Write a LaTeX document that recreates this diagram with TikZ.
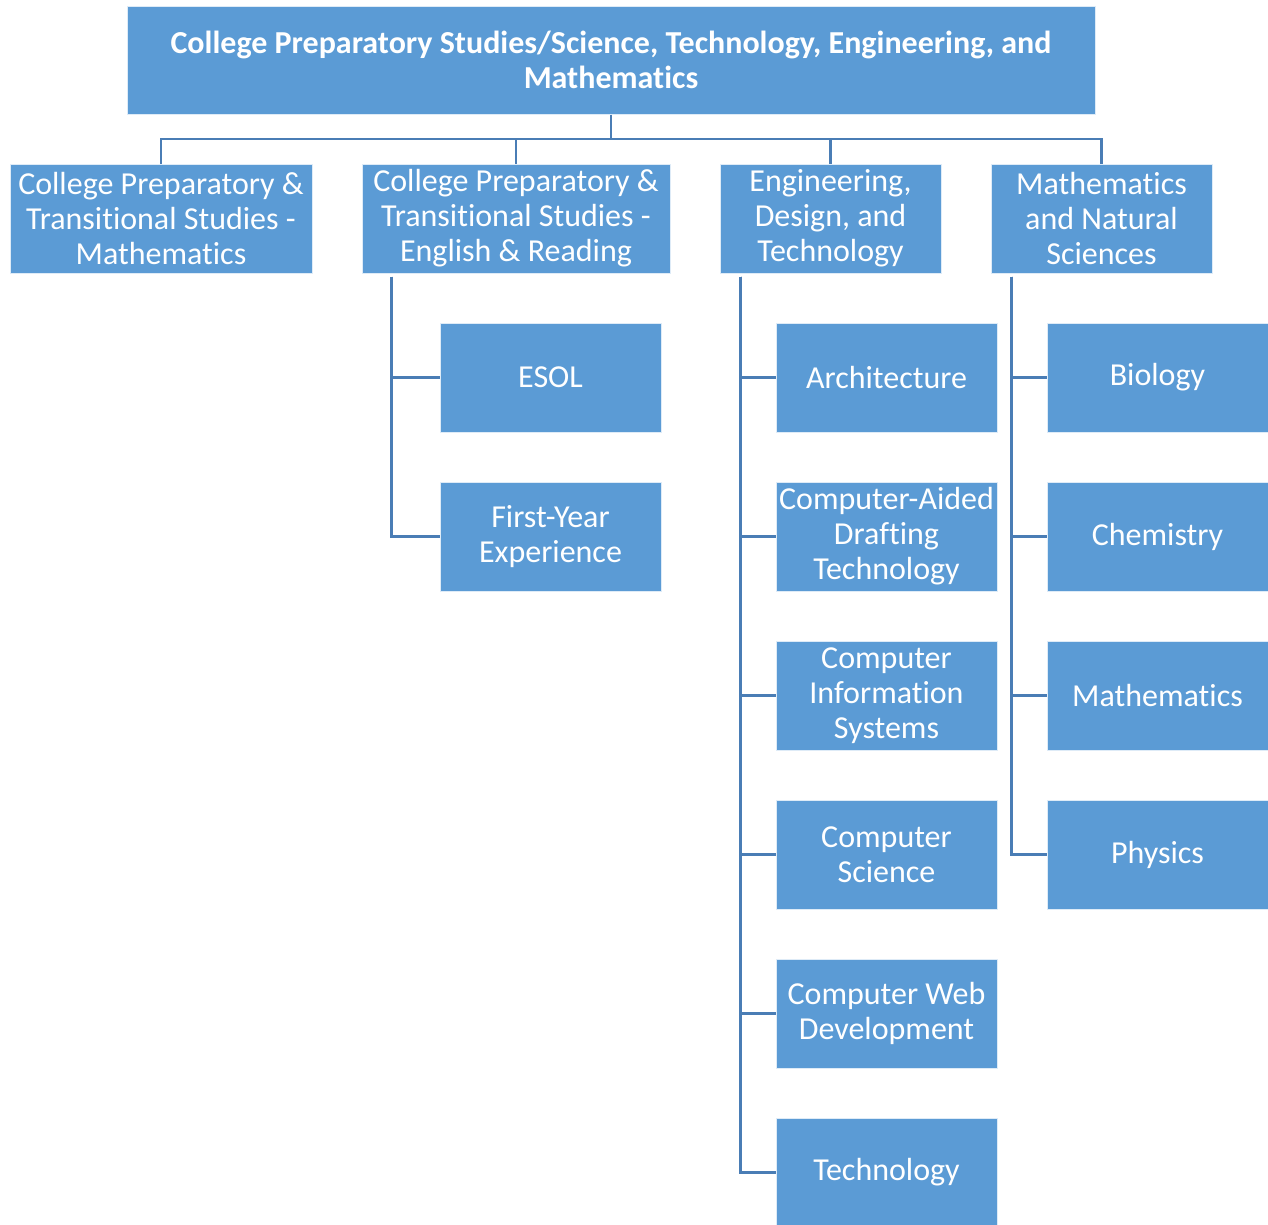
\documentclass[tikz,border=0pt]{standalone}
\usepackage{fontspec}
\setmainfont[Ligatures={NoCommon}]{Carlito}
\usetikzlibrary{calc}
\definecolor{boxfill}{HTML}{5B9BD5}
\definecolor{linec}{HTML}{4A7DB5}
\begin{document}
\begin{tikzpicture}[x=1pt,y=-1pt,
  box/.style={fill=boxfill,draw=white!80!boxfill,line width=1pt,text=white,inner sep=0pt,align=center,
    font=\fontsize{32}{35}\selectfont},
  conn/.style={draw=linec,line width=2.6pt}]
\useasboundingbox (0,0) rectangle (1268,1224);
\node[box,minimum width=968,minimum height=108,font=\bfseries\fontsize{32}{35}\selectfont] (top) at (611,60)
  {College Preparatory Studies/Science, Technology, Engineering, and\\Mathematics};
\node[box,minimum width=302,minimum height=109] (A) at (161,218.5) {College Preparatory \&\\Transitional Studies -\\Mathematics};
\node[box,minimum width=308,minimum height=109] (B) at (516,218.5) {College Preparatory \&\\Transitional Studies -\\English \& Reading};
\node[box,minimum width=221,minimum height=109] (C) at (830.5,218.5) {Engineering,\\Design, and\\Technology};
\node[box,minimum width=221,minimum height=109] (D) at (1101.5,218.5) {Mathematics\\and Natural\\Sciences};
% B children
\node[box,minimum width=221,minimum height=109] (esol) at (550.5,377.5) {ESOL};
\node[box,minimum width=221,minimum height=109] (fye) at (550.5,536.5) {First-Year\\Experience};
% C children
\node[box,minimum width=221,minimum height=109] (arch) at (886.5,377.5) {Architecture};
\node[box,minimum width=221,minimum height=109] (cad) at (886.5,536.5) {Computer-Aided\\Drafting\\Technology};
\node[box,minimum width=221,minimum height=109] (cis) at (886.5,695.5) {Computer\\Information\\Systems};
\node[box,minimum width=221,minimum height=109] (cs) at (886.5,854.5) {Computer\\Science};
\node[box,minimum width=221,minimum height=109] (cwd) at (886.5,1013.5) {Computer Web\\Development};
\node[box,minimum width=221,minimum height=109] (tech) at (886.5,1172.5) {Technology};
% D children
\node[box,minimum width=221,minimum height=109] (bio) at (1157.5,377.5) {Biology};
\node[box,minimum width=221,minimum height=109] (chem) at (1157.5,536.5) {Chemistry};
\node[box,minimum width=221,minimum height=109] (math) at (1157.5,695.5) {Mathematics};
\node[box,minimum width=221,minimum height=109] (phys) at (1157.5,854.5) {Physics};
% bus
\coordinate (bus) at (611,139);
\draw[conn,line join=miter] (A.north) -- (A.north |- bus) -- (D.north |- bus) -- (D.north);
\draw[conn] (top.south) -- (bus);
\draw[conn] (B.north) -- (B.north |- bus);
\draw[conn] (C.north) -- (C.north |- bus);
% spines
\draw[conn] ($(B.south west)+(30,3)$) |- (esol.west);
\draw[conn] ($(B.south west)+(30,3)$) |- (fye.west);
\foreach \n in {arch,cad,cis,cs,cwd,tech}
  \draw[conn] ($(C.south west)+(21,3)$) |- (\n.west);
\foreach \n in {bio,chem,math,phys}
  \draw[conn] ($(D.south west)+(21,3)$) |- (\n.west);
\end{tikzpicture}
\end{document}
